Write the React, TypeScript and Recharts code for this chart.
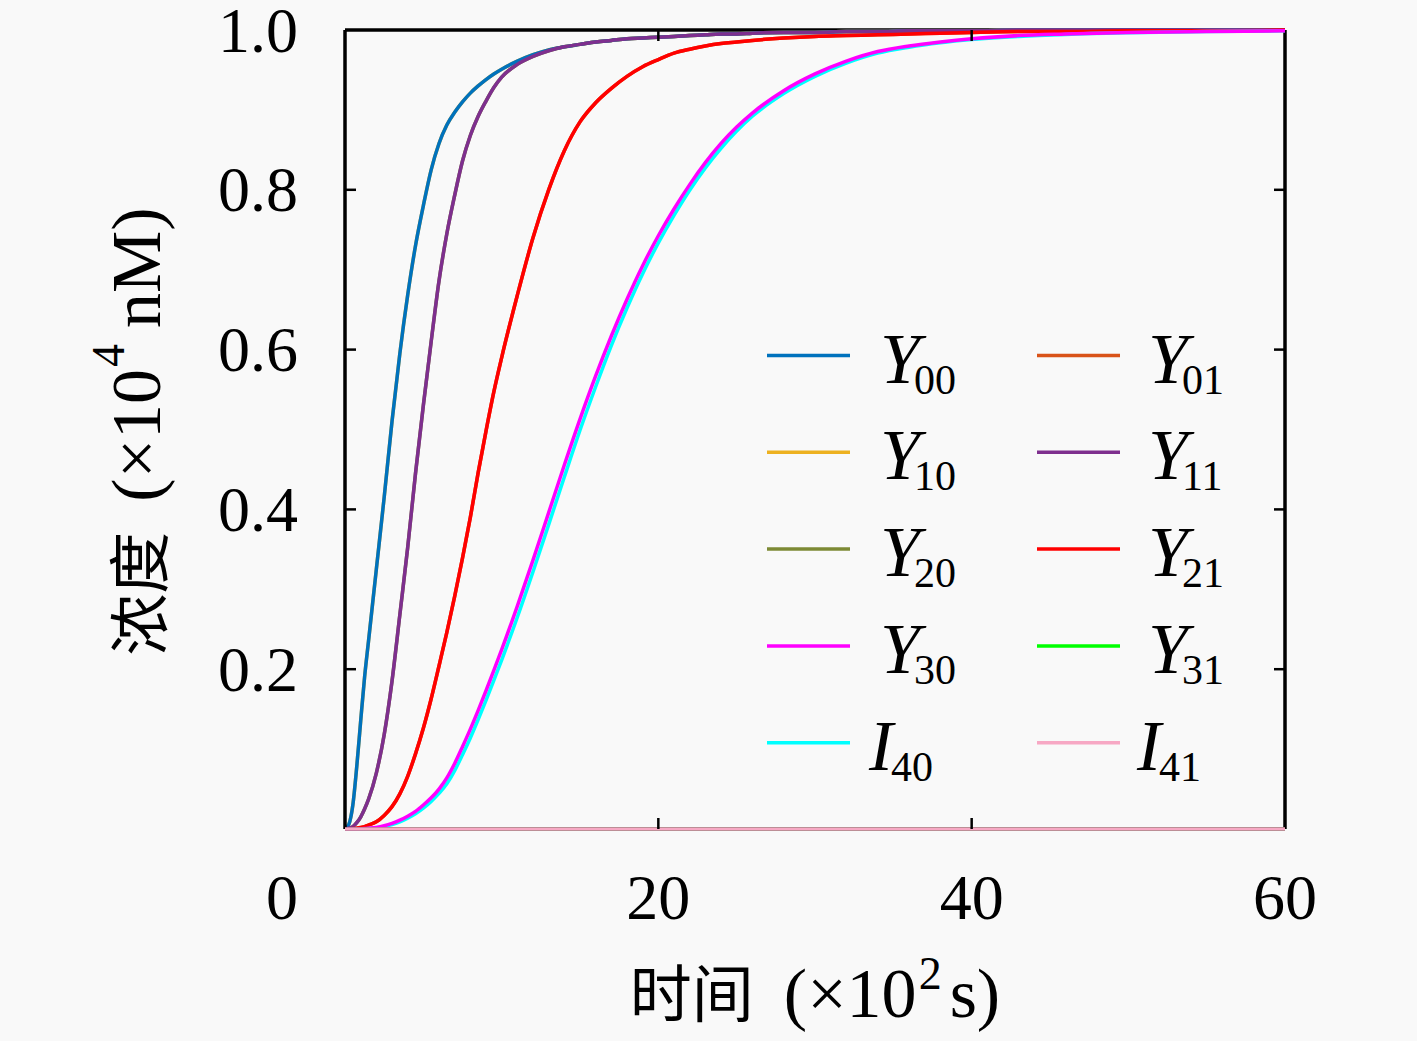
import React from 'react';
import { LineChart, Line, XAxis, YAxis, ReferenceLine } from 'recharts';

// time (x10^2 s)
const t = [0, 0.25, 0.5, 0.75, 1, 1.25, 1.5, 2, 2.5, 3, 3.5, 4, 4.5, 5, 5.5, 6, 6.5, 7, 7.5, 8, 8.5, 9, 9.5, 10, 11, 12, 13, 14, 15, 16, 17, 18, 19, 20, 21, 22, 23, 24, 25, 26, 28, 30, 32, 34, 36, 38, 40, 43, 46, 50, 55, 60];

const y00 = [0, 0.006, 0.03, 0.078, 0.135, 0.19, 0.235, 0.325, 0.415, 0.51, 0.595, 0.668, 0.73, 0.78, 0.825, 0.858, 0.881, 0.897, 0.91, 0.921, 0.93, 0.938, 0.945, 0.951, 0.961, 0.969, 0.975, 0.979, 0.982, 0.985, 0.987, 0.989, 0.99, 0.991, 0.992, 0.993, 0.994, 0.995, 0.995, 0.996, 0.997, 0.997, 0.998, 0.998, 0.999, 0.999, 0.999, 1, 1, 1, 1, 1];
const y10 = [0, 0.006, 0.03, 0.078, 0.135, 0.19, 0.235, 0.325, 0.415, 0.51, 0.595, 0.668, 0.73, 0.78, 0.825, 0.858, 0.881, 0.897, 0.91, 0.921, 0.93, 0.938, 0.945, 0.951, 0.961, 0.969, 0.975, 0.979, 0.982, 0.985, 0.987, 0.989, 0.99, 0.991, 0.992, 0.993, 0.994, 0.995, 0.995, 0.996, 0.997, 0.997, 0.998, 0.998, 0.999, 0.999, 0.999, 1, 1, 1, 1, 1];
const y11 = [0, 0.001, 0.003, 0.008, 0.015, 0.025, 0.037, 0.07, 0.118, 0.185, 0.268, 0.352, 0.445, 0.53, 0.61, 0.686, 0.745, 0.793, 0.836, 0.868, 0.892, 0.911, 0.928, 0.941, 0.957, 0.967, 0.974, 0.979, 0.982, 0.985, 0.987, 0.989, 0.99, 0.991, 0.992, 0.993, 0.994, 0.995, 0.995, 0.996, 0.997, 0.997, 0.998, 0.998, 0.999, 0.999, 0.999, 1, 1, 1, 1, 1];
const y20 = [0, 0.001, 0.003, 0.008, 0.015, 0.025, 0.037, 0.07, 0.118, 0.185, 0.268, 0.352, 0.445, 0.53, 0.61, 0.686, 0.745, 0.793, 0.836, 0.868, 0.892, 0.911, 0.928, 0.941, 0.957, 0.967, 0.974, 0.979, 0.982, 0.985, 0.987, 0.989, 0.99, 0.991, 0.992, 0.993, 0.994, 0.995, 0.995, 0.996, 0.997, 0.997, 0.998, 0.998, 0.999, 0.999, 0.999, 1, 1, 1, 1, 1];
const y21 = [0, 0, 0.0005, 0.001, 0.002, 0.003, 0.005, 0.009, 0.017, 0.028, 0.044, 0.066, 0.094, 0.126, 0.163, 0.204, 0.246, 0.291, 0.339, 0.39, 0.446, 0.498, 0.547, 0.59, 0.668, 0.74, 0.8, 0.849, 0.885, 0.909, 0.927, 0.942, 0.954, 0.963, 0.971, 0.976, 0.98, 0.983, 0.985, 0.987, 0.99, 0.992, 0.993, 0.994, 0.995, 0.996, 0.997, 0.998, 0.998, 0.999, 0.999, 1];
const y01 = [0, 0, 0.0005, 0.001, 0.002, 0.003, 0.005, 0.009, 0.017, 0.028, 0.044, 0.066, 0.094, 0.126, 0.163, 0.204, 0.246, 0.291, 0.339, 0.39, 0.446, 0.498, 0.547, 0.59, 0.668, 0.74, 0.8, 0.849, 0.885, 0.909, 0.927, 0.942, 0.954, 0.963, 0.971, 0.976, 0.98, 0.983, 0.985, 0.987, 0.99, 0.992, 0.993, 0.994, 0.995, 0.996, 0.997, 0.998, 0.998, 0.999, 0.999, 1];
const y30 = [0, 0, 0, 0, 0.0003, 0.0006, 0.001, 0.002, 0.004, 0.007, 0.011, 0.016, 0.022, 0.03, 0.039, 0.05, 0.064, 0.082, 0.103, 0.125, 0.1485, 0.173, 0.1985, 0.2245, 0.279, 0.3365, 0.396, 0.4555, 0.513, 0.567, 0.617, 0.663, 0.705, 0.7425, 0.776, 0.8065, 0.834, 0.858, 0.8785, 0.896, 0.924, 0.945, 0.961, 0.973, 0.98, 0.985, 0.989, 0.993, 0.995, 0.997, 0.998, 0.999];
const i40 = [0, 0, 0, 0, 0, 0.0003, 0.0006, 0.0015, 0.003, 0.0055, 0.009, 0.0135, 0.019, 0.026, 0.0345, 0.0445, 0.0565, 0.073, 0.093, 0.114, 0.137, 0.161, 0.186, 0.2115, 0.265, 0.322, 0.381, 0.4405, 0.499, 0.5535, 0.605, 0.652, 0.695, 0.7335, 0.768, 0.7995, 0.8275, 0.852, 0.8735, 0.892, 0.9205, 0.942, 0.9585, 0.971, 0.9785, 0.984, 0.988, 0.992, 0.9945, 0.9965, 0.998, 0.999];
const y31 = [0, 0, 0, 0, 0, 0, 0, 0, 0, 0, 0, 0, 0, 0, 0, 0, 0, 0, 0, 0, 0, 0, 0, 0, 0, 0, 0, 0, 0, 0, 0, 0, 0, 0, 0, 0, 0, 0, 0, 0, 0, 0, 0, 0, 0, 0, 0, 0, 0, 0, 0, 0];
const i41 = [0, 0, 0, 0, 0, 0, 0, 0, 0, 0, 0, 0, 0, 0, 0, 0, 0, 0, 0, 0, 0, 0, 0, 0, 0, 0, 0, 0, 0, 0, 0, 0, 0, 0, 0, 0, 0, 0, 0, 0, 0, 0, 0, 0, 0, 0, 0, 0, 0, 0, 0, 0];

const xTicks = [0, 20, 40, 60];
const yTicks = [0, 0.2, 0.4, 0.6, 0.8, 1.0];

// legend order (row-major, two columns)
const series = [
  { key: 'Y00', letter: 'Y', sub: '00', color: '#0072BD', values: y00 },
  { key: 'Y01', letter: 'Y', sub: '01', color: '#D95319', values: y01 },
  { key: 'Y10', letter: 'Y', sub: '10', color: '#EDB120', values: y10 },
  { key: 'Y11', letter: 'Y', sub: '11', color: '#7E2F8E', values: y11 },
  { key: 'Y20', letter: 'Y', sub: '20', color: '#7D8A35', values: y20 },
  { key: 'Y21', letter: 'Y', sub: '21', color: '#FF0000', values: y21 },
  { key: 'Y30', letter: 'Y', sub: '30', color: '#FF00FF', values: y30 },
  { key: 'Y31', letter: 'Y', sub: '31', color: '#00FF00', values: y31 },
  { key: 'I40', letter: 'I', sub: '40', color: '#00FFFF', values: i40 },
  { key: 'I41', letter: 'I', sub: '41', color: '#F7A8C4', values: i41 },
];

// drawing order (hidden/overlapped first)
const drawOrder = ['Y10', 'Y20', 'Y01', 'Y31', 'Y00', 'Y11', 'Y21', 'I40', 'Y30', 'I41'];

const data = t.map((tv, i) => {
  const row: Record<string, number> = { t: tv };
  series.forEach((s) => { row[s.key] = s.values[i]; });
  return row;
});

const W = 1417;
const H = 1041;
const PLOT = { left: 345, right: 1285, top: 30, bottom: 829 };
const TICK_LEN = 11;
const SERIF = '"Liberation Serif", "Times New Roman", serif';
const CJK = '"Noto Sans CJK SC", sans-serif';
const BG = '#f9f9f9';

function XTick(props: any) {
  const { x, payload } = props;
  const v = payload.value;
  const isZero = v === 0;
  return (
    <g>
      <text
        x={isZero ? 298 : x}
        y={897}
        textAnchor={isZero ? 'end' : 'middle'}
        dominantBaseline="central"
        fontFamily={SERIF}
        fontSize={64}
        fill="#000"
      >
        {String(v)}
      </text>
      {v > 0 && v < 60 && (
        <>
          <line x1={x} x2={x} y1={PLOT.bottom} y2={PLOT.bottom - TICK_LEN} stroke="#000" strokeWidth={2.5} />
          <line x1={x} x2={x} y1={PLOT.top} y2={PLOT.top + TICK_LEN} stroke="#000" strokeWidth={2.5} />
        </>
      )}
    </g>
  );
}

function YTick(props: any) {
  const { y, payload } = props;
  const v = payload.value;
  if (v === 0) return <g />;
  return (
    <g>
      <text
        x={298}
        y={y}
        textAnchor="end"
        dominantBaseline="central"
        fontFamily={SERIF}
        fontSize={64}
        fill="#000"
      >
        {v.toFixed(1)}
      </text>
      {v < 1 && (
        <>
          <line x1={PLOT.left} x2={PLOT.left + TICK_LEN} y1={y} y2={y} stroke="#000" strokeWidth={2.5} />
          <line x1={PLOT.right} x2={PLOT.right - TICK_LEN} y1={y} y2={y} stroke="#000" strokeWidth={2.5} />
        </>
      )}
    </g>
  );
}

function XLabel(props: any) {
  const vb = props.viewBox || { x: PLOT.left, y: PLOT.bottom, width: PLOT.right - PLOT.left, height: 212 };
  const cx = vb.x + vb.width / 2;
  const by = vb.y + 188;
  return (
    <text x={cx} y={by} textAnchor="middle" fill="#000" fontFamily={SERIF} fontSize={70}>
      <tspan fontFamily={CJK} fontSize={62}>时间</tspan>
      <tspan dx={30}>(×10</tspan>
      <tspan fontSize={46} dy={-28} dx={2}>2</tspan>
      <tspan dy={28} dx={8}>s)</tspan>
    </text>
  );
}

function YLabel(props: any) {
  const vb = props.viewBox || { x: 0, y: PLOT.top, width: PLOT.left, height: PLOT.bottom - PLOT.top };
  const cx = 136;
  const cy = vb.y + vb.height / 2 + 2;
  return (
    <text
      x={cx}
      y={cy}
      textAnchor="middle"
      dominantBaseline="central"
      fill="#000"
      fontFamily={SERIF}
      fontSize={70}
      transform={`rotate(-90, ${cx}, ${cy})`}
    >
      <tspan fontFamily={CJK} fontSize={62}>浓度</tspan>
      <tspan dx={30}>(×10</tspan>
      <tspan fontSize={46} dy={-28} dx={2}>4</tspan>
      <tspan dy={28} dx={16}>nM)</tspan>
    </text>
  );
}

function LegendOverlay() {
  const rowY0 = 355.5;
  const rowStep = 96.8;
  return (
    <svg
      width={W}
      height={H}
      style={{ position: 'absolute', left: 0, top: 0, pointerEvents: 'none' }}
    >
      {series.map((s, i) => {
        const col = i % 2;
        const row = Math.floor(i / 2);
        const ly = rowY0 + row * rowStep;
        const x1 = col ? 1037 : 767;
        const x2 = col ? 1120 : 850;
        const isI = s.letter === 'I';
        const tx = (col ? 1148 : 880) - (isI ? 11 : 0);
        return (
          <g key={s.key}>
            <line x1={x1} x2={x2} y1={ly} y2={ly} stroke={s.color} strokeWidth={3.5} />
            <text x={tx} y={ly + 27} fontFamily={SERIF} fill="#000">
              <tspan fontStyle="italic" fontSize={72}>{s.letter}</tspan>
              <tspan fontSize={42} dy={11} dx={isI ? -2 : -6}>{s.sub}</tspan>
            </text>
          </g>
        );
      })}
    </svg>
  );
}

export default function App() {
  return (
    <div style={{ width: W, height: H, background: BG, position: 'relative', overflow: 'hidden' }}>
      <style>{`html, body { margin: 0; padding: 0; background: ${BG}; }`}</style>
      <LineChart
        width={W}
        height={H}
        data={data}
        margin={{ top: PLOT.top, right: W - PLOT.right, left: 0, bottom: 0 }}
      >
        <XAxis
          dataKey="t"
          type="number"
          domain={[0, 60]}
          ticks={xTicks}
          interval={0}
          height={H - PLOT.bottom}
          axisLine={{ stroke: '#000', strokeWidth: 3.5 }}
          tickLine={false}
          tick={<XTick />}
          label={XLabel}
        />
        <YAxis
          type="number"
          domain={[0, 1]}
          ticks={yTicks}
          interval={0}
          width={PLOT.left}
          axisLine={{ stroke: '#000', strokeWidth: 3.5 }}
          tickLine={false}
          tick={<YTick />}
          label={YLabel}
        />
        <ReferenceLine y={1} stroke="#000" strokeWidth={3.5} />
        <ReferenceLine x={60} stroke="#000" strokeWidth={3.5} />
        {drawOrder.map((k) => {
          const s = series.find((d) => d.key === k)!;
          return (
            <Line
              key={k}
              type="monotone"
              dataKey={k}
              stroke={s.color}
              strokeWidth={3.5}
              dot={false}
              activeDot={false}
              isAnimationActive={false}
              zIndex={k === 'I41' ? 1000 : undefined}
            />
          );
        })}
      </LineChart>
      <LegendOverlay />
    </div>
  );
}
